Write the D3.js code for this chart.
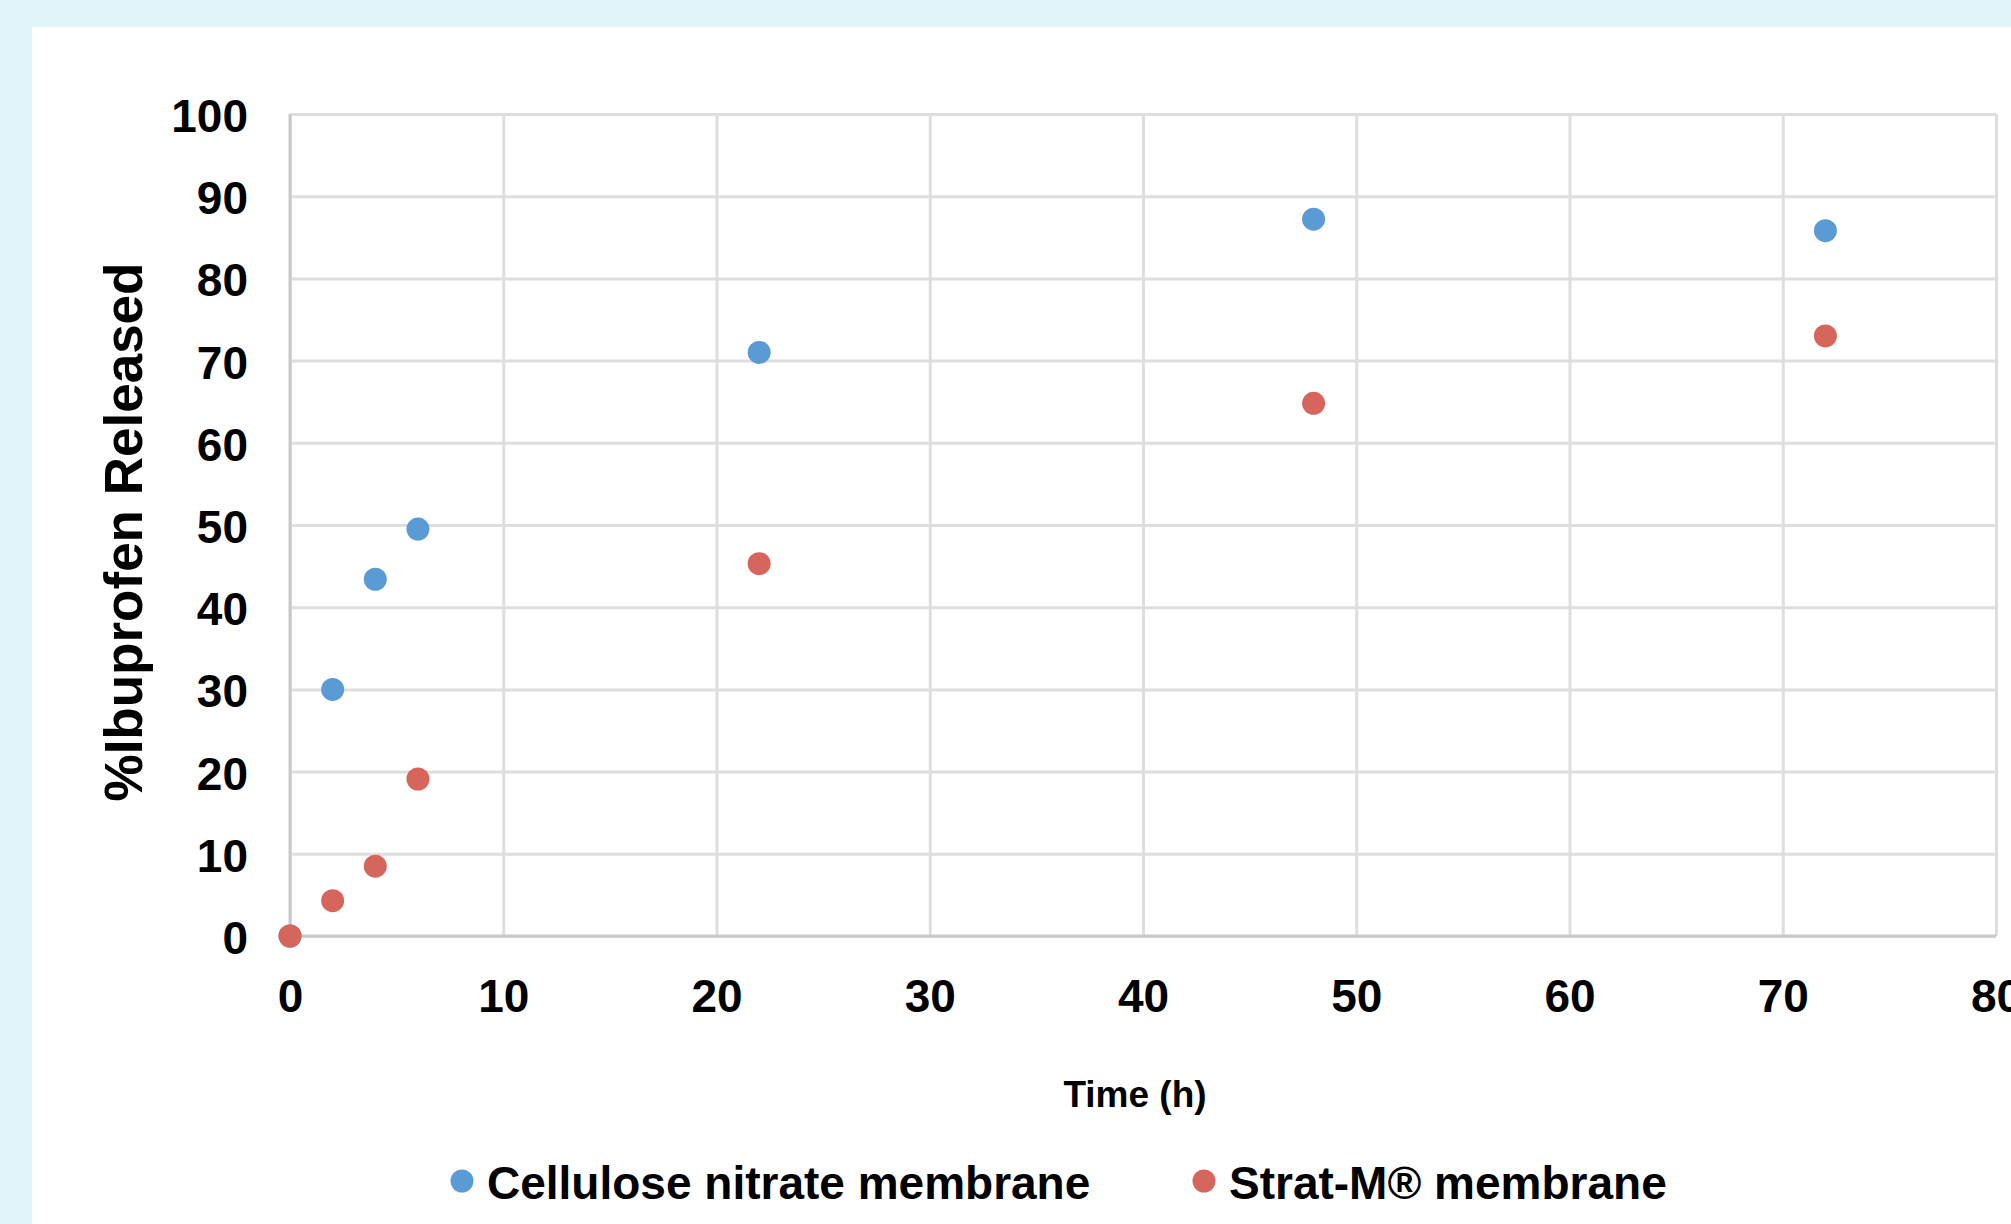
<!DOCTYPE html>
<html>
<head>
<meta charset="utf-8">
<script src="https://cdn.jsdelivr.net/npm/d3@7"></script>
<style>
  body { margin: 0; background: #e3f4f9; }
  svg { display: block; font-family: "Liberation Sans", Arial, sans-serif; font-weight: bold; }
</style>
</head>
<body>
<div id="chart"></div>
<script>
// data
var seriesNames = ["Cellulose nitrate membrane", "Strat-M\u00ae membrane"];
var seriesColors = ["#5b9bd5", "#d6655b"];
var timeCellulose = [0, 2, 4, 6, 22, 48, 72];
var releasedCellulose = [0, 30.0, 43.4, 49.5, 71.0, 87.2, 85.8];
var timeStrat = [0, 2, 4, 6, 22, 48, 72];
var releasedStrat = [0, 4.3, 8.5, 19.1, 45.3, 64.8, 73.0];
var xTicks = [0, 10, 20, 30, 40, 50, 60, 70, 80];
var yTicks = [0, 10, 20, 30, 40, 50, 60, 70, 80, 90, 100];

var W = 2011, H = 1224;
var margin = {top: 114, right: 15, bottom: 288, left: 290};
var width = W - margin.left - margin.right,
    height = H - margin.top - margin.bottom;

var svg = d3.select("#chart").append("svg")
    .attr("width", W)
    .attr("height", H);

// white panel over the light blue page
svg.append("rect")
    .attr("x", 32).attr("y", 27)
    .attr("width", W - 32).attr("height", H - 27)
    .attr("fill", "#ffffff");

var g = svg.append("g")
    .attr("transform", "translate(" + margin.left + "," + margin.top + ")");

var x = d3.scaleLinear().domain([0, 80]).range([0, width]);
var y = d3.scaleLinear().domain([0, 100]).range([height, 0]);

// gridlines
g.append("g")
    .attr("class", "grid")
    .call(d3.axisLeft(y).tickValues(yTicks).tickSize(-width).tickFormat(""))
    .call(function(s) { s.select(".domain").remove(); })
    .selectAll("line")
    .attr("stroke", "#dedede").attr("stroke-width", 3);

g.append("g")
    .attr("class", "grid")
    .attr("transform", "translate(0," + height + ")")
    .call(d3.axisBottom(x).tickValues(xTicks).tickSize(-height).tickFormat(""))
    .call(function(s) { s.select(".domain").remove(); })
    .selectAll("line")
    .attr("stroke", "#dedede").attr("stroke-width", 3);

// axis lines
g.append("line")
    .attr("x1", x(0)).attr("x2", x(0))
    .attr("y1", y(100)).attr("y2", y(0))
    .attr("stroke", "#c9c9c9").attr("stroke-width", 3);
g.append("line")
    .attr("x1", x(0)).attr("x2", x(80))
    .attr("y1", y(0)).attr("y2", y(0))
    .attr("stroke", "#c9c9c9").attr("stroke-width", 3);

// tick labels
var yAxis = g.append("g")
    .call(d3.axisLeft(y).tickValues(yTicks).tickSize(0).tickPadding(42));
yAxis.select(".domain").remove();
yAxis.selectAll("text")
    .attr("font-size", 46).attr("font-family", null).attr("fill", "#000")
    .attr("dy", "0.38em");

var xAxis = g.append("g")
    .attr("transform", "translate(0," + height + ")")
    .call(d3.axisBottom(x).tickValues(xTicks).tickSize(0).tickPadding(53));
xAxis.select(".domain").remove();
xAxis.selectAll("text")
    .attr("font-size", 46).attr("font-family", null).attr("fill", "#000");
xAxis.selectAll("text").attr("dy", "0.5em");

// points
var series = [
  d3.zip(timeCellulose, releasedCellulose),
  d3.zip(timeStrat, releasedStrat)
];
series.forEach(function(pts, i) {
  g.selectAll(".dot" + i)
    .data(pts)
    .enter()
    .append("circle")
      .attr("cx", function(d) { return x(d[0]); })
      .attr("cy", function(d) { return y(d[1]); })
      .attr("r", 11.5)
      .attr("fill", seriesColors[i]);
});

// axis titles
svg.append("text")
    .attr("x", 1135).attr("y", 1107)
    .attr("text-anchor", "middle")
    .attr("font-size", 37)
    .text("Time (h)");

svg.append("text")
    .attr("transform", "translate(142,532) rotate(-90)")
    .attr("text-anchor", "middle")
    .attr("font-size", 53)
    .text("%Ibuprofen Released");

// legend
var legendX = [462, 1204];
seriesNames.forEach(function(name, i) {
  svg.append("circle")
    .attr("cx", legendX[i]).attr("cy", 1181)
    .attr("r", 11.5)
    .attr("fill", seriesColors[i]);
  svg.append("text")
    .attr("x", legendX[i] + 25).attr("y", 1199)
    .attr("font-size", 46)
    .text(name);
});
</script>
</body>
</html>
